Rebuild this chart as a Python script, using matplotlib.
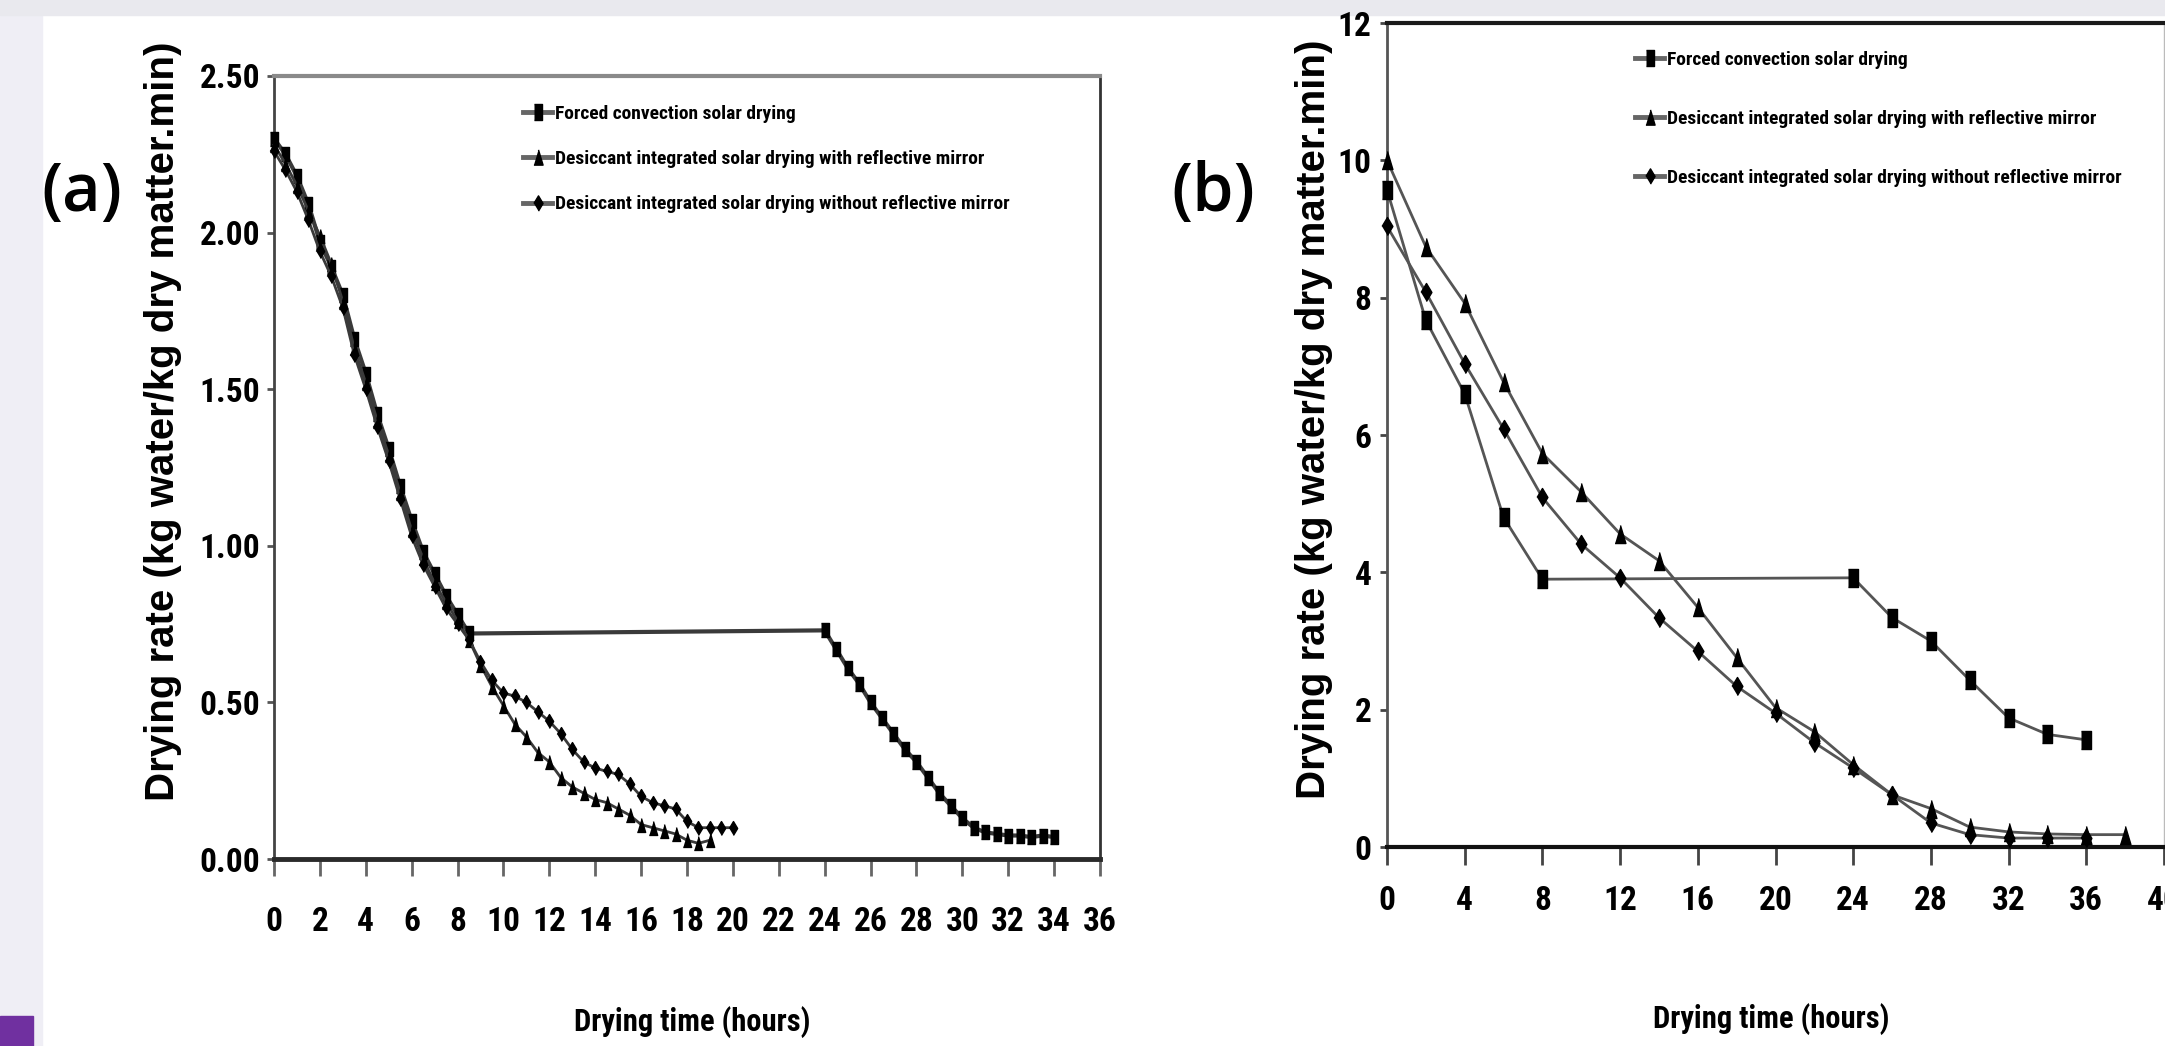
import matplotlib
matplotlib.use("Agg")
import matplotlib.pyplot as plt
from matplotlib.patches import Rectangle
from matplotlib.lines import Line2D

W, H = 2165, 1046

# ---- panel (a): half-hourly readings ----
t_a_forced = [0, 0.5, 1, 1.5, 2, 2.5, 3, 3.5, 4, 4.5, 5, 5.5, 6, 6.5, 7, 7.5, 8, 8.5,
              24, 24.5, 25, 25.5, 26, 26.5, 27, 27.5, 28, 28.5, 29, 29.5, 30, 30.5,
              31, 31.5, 32, 32.5, 33, 33.5, 34]
r_a_forced = [2.30, 2.25, 2.18, 2.09, 1.97, 1.89, 1.80, 1.66, 1.55, 1.42, 1.31, 1.19,
              1.08, 0.98, 0.91, 0.84, 0.78, 0.72,
              0.73, 0.67, 0.61, 0.56, 0.50, 0.45, 0.40, 0.35, 0.31, 0.26, 0.21, 0.17,
              0.13, 0.10, 0.085, 0.08, 0.075, 0.075, 0.07, 0.075, 0.07]

t_a_mirror = [0, 0.5, 1, 1.5, 2, 2.5, 3, 3.5, 4, 4.5, 5, 5.5, 6, 6.5, 7, 7.5, 8, 8.5,
              9, 9.5, 10, 10.5, 11, 11.5, 12, 12.5, 13, 13.5, 14, 14.5, 15, 15.5,
              16, 16.5, 17, 17.5, 18, 18.5, 19]
r_a_mirror = [2.28, 2.22, 2.15, 2.07, 1.99, 1.90, 1.78, 1.63, 1.52, 1.40, 1.29, 1.17,
              1.05, 0.96, 0.88, 0.82, 0.76, 0.70,
              0.62, 0.55, 0.49, 0.43, 0.39, 0.34, 0.31, 0.26, 0.23, 0.21, 0.19, 0.18,
              0.16, 0.14, 0.11, 0.10, 0.09, 0.08, 0.06, 0.05, 0.06]

t_a_nomirror = [0, 0.5, 1, 1.5, 2, 2.5, 3, 3.5, 4, 4.5, 5, 5.5, 6, 6.5, 7, 7.5, 8, 8.5,
                9, 9.5, 10, 10.5, 11, 11.5, 12, 12.5, 13, 13.5, 14, 14.5, 15, 15.5,
                16, 16.5, 17, 17.5, 18, 18.5, 19, 19.5, 20]
r_a_nomirror = [2.26, 2.20, 2.13, 2.04, 1.94, 1.86, 1.76, 1.61, 1.50, 1.38, 1.27, 1.15,
                1.03, 0.94, 0.87, 0.80, 0.75, 0.70,
                0.63, 0.57, 0.53, 0.52, 0.50, 0.47, 0.44, 0.40, 0.35, 0.31, 0.29, 0.28,
                0.27, 0.24, 0.20, 0.18, 0.17, 0.16, 0.12, 0.10, 0.10, 0.10, 0.10]

# ---- panel (b): two-hourly readings ----
t_b_forced = [0, 2, 4, 6, 8, 24, 26, 28, 30, 32, 34, 36]
r_b_forced = [9.57, 7.67, 6.60, 4.80, 3.90, 3.92, 3.34, 3.00, 2.43, 1.88, 1.64, 1.56]

t_b_mirror = [0, 2, 4, 6, 8, 10, 12, 14, 16, 18, 20, 22, 24, 26, 28, 30, 32, 34, 36, 38]
r_b_mirror = [10.0, 8.74, 7.92, 6.77, 5.73, 5.17, 4.56, 4.17, 3.49, 2.76, 2.03, 1.68,
              1.20, 0.76, 0.56, 0.29, 0.22, 0.19, 0.18, 0.18]

t_b_nomirror = [0, 2, 4, 6, 8, 10, 12, 14, 16, 18, 20, 22, 24, 26, 28, 30, 32, 34, 36]
r_b_nomirror = [9.04, 8.08, 7.04, 6.09, 5.09, 4.41, 3.92, 3.34, 2.85, 2.34, 1.95, 1.52,
                1.15, 0.76, 0.35, 0.18, 0.13, 0.13, 0.13]

labels = ["Forced convection solar drying",
          "Desiccant integrated solar drying with reflective mirror",
          "Desiccant integrated solar drying without reflective mirror"]

xticks_a = [0, 2, 4, 6, 8, 10, 12, 14, 16, 18, 20, 22, 24, 26, 28, 30, 32, 34, 36]
yticks_a = [0.0, 0.5, 1.0, 1.5, 2.0, 2.5]
xticks_b = [0, 4, 8, 12, 16, 20, 24, 28, 32, 36, 40]
yticks_b = [0, 2, 4, 6, 8, 10, 12]

# narrow faces first, whichever is installed
NARROW = ["DejaVu Sans Condensed", "Roboto Condensed", "Liberation Sans Narrow",
          "Arial Narrow", "Roboto"]
WIDE = ["Liberation Sans", "DejaVu Sans"]

# tall, squeezed marker shapes (the source picture is compressed sideways)
m_square = [(-0.55, -1), (0.55, -1), (0.55, 1), (-0.55, 1)]
m_tri = [(-0.6, -1), (0.6, -1), (0, 1)]
m_diam = [(0, -1), (0.6, 0), (0, 1), (-0.6, 0)]
markers = [m_square, m_tri, m_diam]


def fx(px):
    return px / W


def fy(py):
    return 1 - py / H


fig = plt.figure(figsize=(W / 100, H / 100), dpi=100)
fig.patch.set_facecolor("white")

# slide background bits
fig.add_artist(Rectangle((0, 0), fx(42), 1, transform=fig.transFigure,
                         color="#efeef5", zorder=0))
fig.add_artist(Rectangle((0, fy(15)), 1, 15 / H, transform=fig.transFigure,
                         color="#e9e9ee", zorder=0))
fig.add_artist(Rectangle((0, 0), fx(33), 30 / H, transform=fig.transFigure,
                         color="#7030a0", zorder=1))

ax_a = fig.add_axes([fx(274), fy(859), fx(1100 - 274), (859 - 76) / H])
ax_b = fig.add_axes([fx(1387), fy(847), fx(2164 - 1387), (847 - 23) / H])

# panel (a)
series_a = [(t_a_forced, r_a_forced), (t_a_mirror, r_a_mirror), (t_a_nomirror, r_a_nomirror)]
widths_a = [3, 2, 2]
for (t, r), m, lab, lw in zip(series_a, markers, labels, widths_a):
    ax_a.plot(t, r, color="#3a3a3a", lw=lw, marker=m, ms=10, mfc="black", mec="black",
              clip_on=False, label=lab, zorder=3)
ax_a.set_xlim(0, 36)
ax_a.set_ylim(0, 2.5)
ax_a.set_xticks(xticks_a)
ax_a.set_xticklabels([str(v) for v in xticks_a])
ax_a.set_yticks(yticks_a)
ax_a.set_yticklabels(["%.2f" % v for v in yticks_a])
ax_a.tick_params(axis="x", direction="out", length=12, width=2, color="#666666", pad=22)
ax_a.tick_params(axis="y", direction="out", length=5, width=2, color="#555555", pad=5)
ax_a.spines["top"].set_color("#8a8a8a")
ax_a.spines["top"].set_linewidth(3)
ax_a.spines["left"].set_color("#444444")
ax_a.spines["left"].set_linewidth(2)
ax_a.spines["right"].set_color("#333333")
ax_a.spines["right"].set_linewidth(2)
ax_a.spines["bottom"].set_color("#2a2a2a")
ax_a.spines["bottom"].set_linewidth(3.5)

# panel (b)
series_b = [(t_b_forced, r_b_forced), (t_b_mirror, r_b_mirror), (t_b_nomirror, r_b_nomirror)]
for (t, r), m, lab in zip(series_b, markers, labels):
    ax_b.plot(t, r, color="#555555", lw=2, marker=m, ms=13, mfc="black", mec="black",
              clip_on=False, label=lab, zorder=3)
ax_b.set_xlim(0, 40)
ax_b.set_ylim(0, 12)
ax_b.set_xticks(xticks_b)
ax_b.set_xticklabels([str(v) for v in xticks_b])
ax_b.set_yticks(yticks_b)
ax_b.set_yticklabels([str(v) for v in yticks_b])
ax_b.tick_params(axis="x", direction="out", length=13, width=2, color="#444444", pad=14)
ax_b.tick_params(axis="y", direction="out", length=5, width=2, color="#444444", pad=6)
ax_b.spines["top"].set_color("#1a1a1a")
ax_b.spines["top"].set_linewidth(3)
ax_b.spines["left"].set_color("#555555")
ax_b.spines["left"].set_linewidth(2)
ax_b.spines["right"].set_color("#bbbbbb")
ax_b.spines["right"].set_linewidth(1)
ax_b.spines["bottom"].set_color("#111111")
ax_b.spines["bottom"].set_linewidth(3)

for ax in (ax_a, ax_b):
    for lab in ax.get_xticklabels() + ax.get_yticklabels():
        lab.set_family(NARROW)
        lab.set_fontstretch("condensed")
        lab.set_fontweight("bold")
        lab.set_fontsize(24)

# legends, no frame
for ax, (lx, ly), spacing in ((ax_a, (523, 105), 1.4), (ax_b, (1635, 51), 2.1)):
    handles = [Line2D([], [], color="#666666", lw=3.5, marker=m, ms=11, mfc="black",
                      mec="black") for m in markers]
    ax.legend(handles, labels, loc="upper left", bbox_to_anchor=(fx(lx), fy(ly)),
              bbox_transform=fig.transFigure, frameon=False, borderpad=0,
              borderaxespad=0, handlelength=1.5, handletextpad=0.15,
              labelspacing=spacing,
              prop={"family": NARROW, "stretch": "condensed", "weight": "bold",
                    "size": 14})

# panel letters
fig.text(fx(82), fy(193), "(a)", ha="center", va="center", fontsize=48,
         family=["Open Sans", "DejaVu Sans"], fontweight="semibold")
fig.text(fx(1213), fy(193), "(b)", ha="center", va="center", fontsize=48,
         family=["Open Sans", "DejaVu Sans"], fontweight="semibold")

# axis titles
ylab = "Drying rate (kg water/kg dry matter.min)"
fig.text(fx(163), fy(421), ylab, rotation=90, ha="center", va="center",
         fontsize=29, family=WIDE, fontweight="bold")
fig.text(fx(1314), fy(419), ylab, rotation=90, ha="center", va="center",
         fontsize=29, family=WIDE, fontweight="bold")
fig.text(fx(692), fy(1022), "Drying time (hours)", ha="center", va="center",
         fontsize=22, family=NARROW, fontstretch="condensed", fontweight="bold")
fig.text(fx(1771), fy(1019), "Drying time (hours)", ha="center", va="center",
         fontsize=22, family=NARROW, fontstretch="condensed", fontweight="bold")

fig.savefig("out.png", dpi=100)
